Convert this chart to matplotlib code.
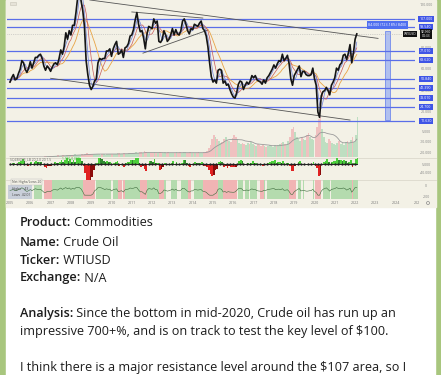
import numpy as np
import pandas as pd
import matplotlib.pyplot as plt
from matplotlib.patches import Rectangle

W, H = 441, 375

# monthly closes, Jan 2005 .. Feb 2022
close = [48, 52, 55, 50, 51, 56, 60, 68, 66, 60, 57, 61,
         67, 61, 66, 71, 71, 73, 74, 70, 63, 59, 63, 61,
         58, 62, 65, 66, 64, 70, 78, 74, 81, 94, 88, 96,
         92, 101, 101, 113, 127, 140, 124, 115, 100, 68, 55, 45,
         41, 44, 49, 51, 66, 70, 69, 70, 70, 77, 77, 79,
         72, 79, 83, 86, 74, 75, 78, 71, 80, 81, 84, 91,
         92, 97, 106, 113, 102, 95, 96, 89, 79, 93, 100, 99,
         98, 107, 103, 105, 86, 85, 88, 96, 92, 86, 88, 92,
         98, 92, 97, 93, 92, 96, 105, 107, 102, 96, 93, 98,
         97, 102, 101, 100, 103, 105, 98, 96, 91, 81, 66, 53,
         48, 50, 47, 59, 60, 59, 47, 49, 45, 46, 41, 37,
         34, 33, 38, 46, 49, 48, 41, 45, 48, 46, 49, 54,
         52, 54, 50, 49, 48, 46, 50, 47, 52, 54, 57, 60,
         64, 61, 65, 68, 67, 74, 68, 70, 73, 65, 51, 45,
         54, 57, 60, 63, 53, 58, 58, 55, 54, 54, 55, 61,
         51, 45, 20, 15, 35, 39, 40, 43, 40, 36, 45, 48,
         52, 61, 59, 64, 66, 73, 74, 69, 75, 83, 66, 75,
         88, 93]

volume = [0, 0, 0, 0, 0, 0, 0, 0, 0, 0, 0, 0,
          0, 0, 0, 0, 0, 0, 0, 0, 1, 1, 1, 1,
          1, 1, 1, 1, 2, 1, 1, 2, 1, 2, 2, 2,
          2, 2, 3, 2, 2, 2, 3, 2, 3, 4, 3, 3,
          3, 3, 3, 3, 3, 2, 3, 3, 2, 3, 3, 3,
          3, 3, 3, 4, 4, 3, 3, 4, 3, 3, 4, 4,
          4, 4, 5, 4, 5, 5, 4, 6, 5, 4, 4, 4,
          4, 5, 4, 4, 5, 4, 4, 5, 4, 5, 4, 4,
          4, 4, 5, 4, 5, 4, 5, 5, 4, 4, 5, 4,
          4, 4, 4, 5, 4, 4, 5, 5, 6, 9, 12, 18,
          22, 20, 18, 16, 14, 15, 18, 20, 17, 16, 15, 19,
          22, 20, 18, 14, 13, 14, 13, 12, 14, 13, 15, 13,
          12, 11, 13, 12, 11, 12, 11, 10, 11, 12, 11, 10,
          12, 11, 12, 13, 14, 15, 13, 12, 16, 20, 28, 30,
          25, 20, 18, 16, 20, 18, 17, 22, 24, 20, 18, 17,
          22, 30, 38, 40, 28, 20, 15, 14, 18, 16, 14, 13,
          12, 14, 16, 13, 14, 12, 15, 16, 14, 17, 20, 15,
          22, 40]

levels = [107.0, 99.4, 77.0, 68.6, 50.8, 42.4, 33.0, 24.7, 11.6]
level_labels = ["107.000", "99.540", "77.010", "68.620", "50.840",
                "42.390", "33.010", "24.700", "11.630"]
price_ticks = [20, 40, 60, 80, 100, 120]
years = list(range(2005, 2025))

df = pd.DataFrame({"close": close, "volume": volume})
df["t"] = 2005 + np.arange(len(df)) / 12
df["ma_fast"] = df["close"].rolling(3, min_periods=1).mean()
df["ma_mid"] = df["close"].rolling(6, min_periods=1).mean()
df["ma_slow"] = df["close"].rolling(12, min_periods=1).mean()
df["vol_ma"] = df["volume"].rolling(12, min_periods=1).mean()
df["mom"] = df["close"] - df["close"].rolling(6, min_periods=1).mean()


def yr(px):
    return 2005 + (px - 10) / 20.3


def prc(py):
    return 120 - (py - 5) / 1.07


def add_px_axes(fig, x0, y0, x1, y1):
    ax = fig.add_axes([x0 / W, 1 - y1 / H, (x1 - x0) / W, (y1 - y0) / H])
    ax.set_axis_off()
    ax.patch.set_alpha(0)
    return ax


plt.rcParams["font.family"] = ["Open Sans", "DejaVu Sans"]
fig = plt.figure(figsize=(W / 100, H / 100), dpi=100)
fig.patch.set_facecolor("#a8c67e")

# white message card + chart image background
bg = add_px_axes(fig, 0, 0, W, H)
bg.set_xlim(0, W)
bg.set_ylim(H, 0)
bg.add_patch(Rectangle((6, 0), 429, 375, color="white"))
bg.add_patch(Rectangle((6, 0), 430, 207, color="#f3f1e6"))
bg.plot([6, 436], [158, 158], color="#dcd9cc", lw=0.6)
bg.plot([6, 436], [180, 180], color="#dcd9cc", lw=0.6)
bg.add_patch(Rectangle((10, 2), 6, 3, fc="#e6e3d8", ec="#c8c5b8", lw=0.4))

xl = (yr(7), yr(415))

# volume
axv = add_px_axes(fig, 7, 104, 415, 157)
axv.set_xlim(xl)
axv.set_ylim(0, 53)
up = df["close"].diff().fillna(0) >= 0
axv.bar(df["t"], df["volume"], width=1 / 12, align="edge",
        color=np.where(up, "#b9dcbd", "#f0bcbc"), alpha=0.9)
axv.plot(df["t"], df["vol_ma"], color="#9a9a9a", lw=0.6)

# price panel
ax = add_px_axes(fig, 7, 0, 415, 125)
ax.set_xlim(xl)
ax.set_ylim(prc(125), prc(0))
for lv in levels:
    ax.axhline(lv, color="#5a6ee8", lw=0.9)
ax.axhline(prc(34), color="#b0b0b0", lw=0.5, ls=":")
ax.plot([2008.93, 2023.13], [124.7, 88.8], color="#555555", lw=0.6)
ax.plot([2007.0, 2021.75], [51.5, 12.5], color="#555555", lw=0.6)
ax.plot([2011.0, 2014.5], [113.5, 107.8], color="#555555", lw=0.6)
ax.plot([2011.55, 2014.75], [75.0, 96.6], color="#555555", lw=0.6)
ax.plot(df["t"], df["ma_slow"], color="#e9a445", lw=0.6)
ax.plot(df["t"], df["ma_mid"], color="#c85a5a", lw=0.5)
ax.plot(df["t"], df["ma_fast"], color="#6c7fd8", lw=0.5)
ax.plot(df["t"], df["close"], color="#151515", lw=1.2)

# measure tool
ax.add_patch(Rectangle((yr(385), prc(120)), yr(390) - yr(385), prc(31) - prc(120),
                       fc="#9fb4f2", ec="#5a78ee", lw=0.6, alpha=0.8))
ax.text(yr(387.5), prc(25), "84.000 (723.18%) 8400", fontsize=2.6, color="white",
        ha="center", va="center",
        bbox=dict(boxstyle="square,pad=0.5", fc="#4f6ff0", ec="none"))

# right axis labels
rx = yr(426)
for p in price_ticks:
    ax.text(rx, p, f"{p}.000", fontsize=2.6, color="#888888", ha="center",
            va="center", clip_on=False)
for lv, lb in zip(levels, level_labels):
    ax.text(rx, lv, lb, fontsize=2.6, color="white", ha="center", va="center",
            clip_on=False, bbox=dict(boxstyle="square,pad=0.35", fc="#3f55e6", ec="none"))
ax.text(rx, prc(34), "92.950\n04:33", fontsize=2.4, color="white", ha="center",
        va="center", clip_on=False, linespacing=1.0,
        bbox=dict(boxstyle="square,pad=0.3", fc="#111111", ec="none"))
ax.text(yr(410), prc(34), "WTIUSD", fontsize=2.4, color="white", ha="center",
        va="center", clip_on=False,
        bbox=dict(boxstyle="square,pad=0.3", fc="#111111", ec="none"))

# squeeze momentum
axo = add_px_axes(fig, 7, 158, 415, 180)
axo.set_xlim(xl)
axo.set_ylim(-37, 14)
mom = df["mom"]
rising = mom.diff().fillna(0) >= 0
mcol = np.where(mom >= 0, np.where(rising, "#4ccf3c", "#2f8a2f"),
                np.where(rising, "#8c0b0b", "#e02222"))
axo.bar(df["t"], mom, width=1 / 12, align="edge", color=mcol)
axo.plot(df["t"], np.zeros(len(df)), color="#222222", lw=0.7,
         marker="o", ms=0.7, markevery=2)
axo.text(yr(10), 11, "SQZMOM_LB 20 2.0 20 1.5", fontsize=2.4, color="#666666",
         va="center")
axo.text(yr(62), 11, "1.986 0.000", fontsize=2.4, color="#3cb83c", va="center")

# net highs/lows
axh = add_px_axes(fig, 7, 180, 415, 199)
axh.set_xlim(xl)
axh.set_ylim(-1, 1)
for t, m in zip(df["t"], mom):
    if m > 0:
        axh.axvspan(t, t + 1 / 12, color="#b4dbae", lw=0)
    elif m < -3:
        axh.axvspan(t, t + 1 / 12, color="#f1b4b4", lw=0)
axh.plot(df["t"], np.clip(mom / 40, -0.5, 0.3) - 0.1, color="#3a6a3a", lw=0.4)
axh.text(yr(12), 0.78, "Net Highs/Lows 20", fontsize=2.4, color="#555555",
         va="center", bbox=dict(boxstyle="square,pad=0.3", fc="#f3f1e6", ec="#bbbbbb", lw=0.3))
axh.add_patch(Rectangle((yr(8), -0.95), yr(32) - yr(8), 1.4, fc="#c9cfd9", ec="none"))
axh.text(yr(12), 0.05, "Highs    43", fontsize=2.4, color="#444444", va="center")
axh.text(yr(12), -0.6, "Lows  42.01", fontsize=2.4, color="#444444", va="center")

# right labels for lower panels and time axis
for py, s in [(132, "5.000"), (142, "-10.000"), (153, "-20.000"), (165, "5.000"),
              (173, "-40.000"), (186, "0"), (197, "-200")]:
    bg.text(426, py, s, fontsize=2.6, color="#888888", ha="center", va="center")
for y in years:
    bg.text(10 + (y - 2005) * 20.3, 203, str(y), fontsize=2.6, color="#777777",
            ha="center", va="center")
bg.text(417, 203, "202", fontsize=2.6, color="#777777", ha="center", va="center")
bg.add_patch(plt.Circle((428, 203), 1.5, fc="none", ec="#888888", lw=0.5))

# message text
lines = [(223, "Product:", " Commodities"),
         (242, "Name:", " Crude Oil"),
         (260, "Ticker:", " WTIUSD"),
         (278, "Exchange:", " N/A"),
         (313, "Analysis:", " Since the bottom in mid-2020, Crude oil has run up an"),
         (331, "", "impressive 700+%, and is on track to test the key level of $100."),
         (368, "", "I think there is a major resistance level around the $107 area, so I")]
fs = 9.1
renderer = fig.canvas.get_renderer()
for py, bold, rest in lines:
    x = 19.5
    if bold:
        tb = fig.text(x / W, 1 - py / H, bold, fontsize=fs, fontweight="semibold",
                      color="#1d1d1d", va="center")
        x = tb.get_window_extent(renderer).x1
    fig.text(x / W, 1 - py / H, rest, fontsize=fs, color="#1d1d1d", va="center")

fig.savefig("out.png", dpi=100, facecolor=fig.get_facecolor())
